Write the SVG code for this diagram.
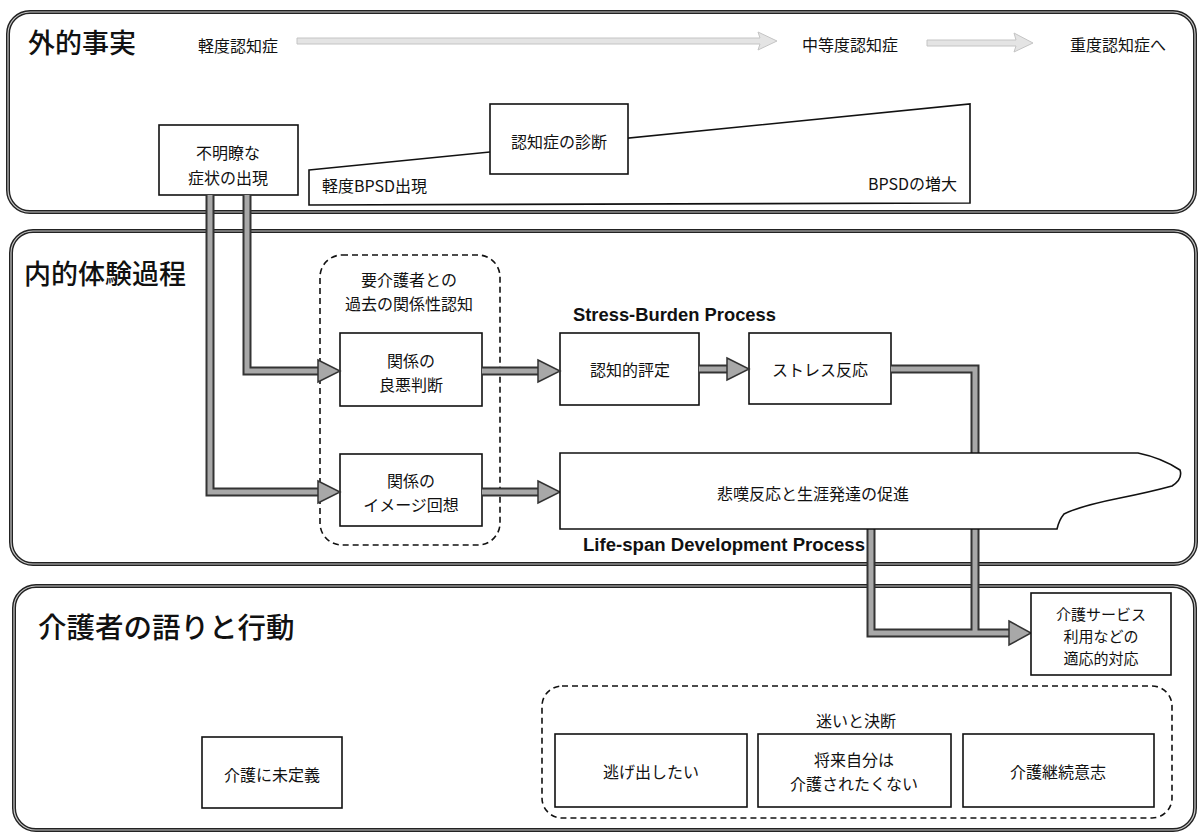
<svg xmlns="http://www.w3.org/2000/svg" width="1201" height="834" viewBox="0 0 1201 834">
<defs>
<style>
.panel{fill:none;stroke:#222;stroke-width:4}
.panel2{fill:none;stroke:#c8c8c8;stroke-width:1.2}
.box{fill:#fff;stroke:#111;stroke-width:1.6}
.dash{fill:none;stroke:#111;stroke-width:1.6;stroke-dasharray:6 4}
.jp{font-family:"Noto Sans CJK JP","Noto Sans CJK SC",sans-serif;font-size:16px;fill:#111}
.sm{font-size:15px}
.title{font-family:"Noto Sans CJK JP","Noto Sans CJK SC",sans-serif;font-size:27px;fill:#111;font-weight:500}
.en{font-family:"Liberation Sans Narrow","Liberation Sans",sans-serif;font-size:18px;font-weight:bold;fill:#111}
.c{text-anchor:middle}
.co{fill:none;stroke:#333;stroke-width:9;stroke-linejoin:miter}
.ci{fill:none;stroke:#a8a8a8;stroke-width:5;stroke-linejoin:miter}
.head{fill:#a8a8a8;stroke:#333;stroke-width:1.5}
.prog{fill:#e4e4e4;stroke:#c4c4c4;stroke-width:1}
</style>
</defs>

<g id="panels">
<rect class="panel" x="8" y="12" width="1187" height="200" rx="22"/>
<rect class="panel2" x="8" y="12" width="1187" height="200" rx="22"/>
<rect class="panel" x="11" y="231" width="1185" height="333" rx="22"/>
<rect class="panel2" x="11" y="231" width="1185" height="333" rx="22"/>
<rect class="panel" x="14" y="586" width="1181" height="244" rx="22"/>
<rect class="panel2" x="14" y="586" width="1181" height="244" rx="22"/>
</g>

<g id="titles">
<text class="title" x="28" y="41" dominant-baseline="central">外的事実</text>
<text class="title" x="24" y="272" dominant-baseline="central">内的体験過程</text>
<text class="title" x="38" y="625" dominant-baseline="central" style="font-size:28.5px">介護者の語りと行動</text>
</g>

<g id="progression">
<text class="jp" x="198" y="45" dominant-baseline="central">軽度認知症</text>
<polygon class="prog" points="297,38 760,38 758,32 777,41 758,50 760,44 297,44"/>
<text class="jp" x="802" y="44" dominant-baseline="central">中等度認知症</text>
<polygon class="prog" points="927,40 1016,40 1014,33 1033,43 1014,52 1016,46 927,46"/>
<text class="jp" x="1070" y="44" dominant-baseline="central">重度認知症へ</text>
</g>

<g id="bpsd">
<polygon class="box" points="309,170 970,104 970,203 309,205"/>
<text class="jp" x="322" y="185" dominant-baseline="central">軽度BPSD出現</text>
<text class="jp" x="957" y="183" dominant-baseline="central" text-anchor="end">BPSDの増大</text>
</g>

<g id="diagnosis">
<rect class="box" x="490" y="104" width="138" height="70"/>
<text class="jp c" x="559" y="141" dominant-baseline="central">認知症の診断</text>
</g>

<g id="unclear">
<rect class="box" x="159" y="125" width="139" height="70"/>
<text class="jp c" x="228" y="152" dominant-baseline="central">不明瞭な</text>
<text class="jp c" x="228" y="177" dominant-baseline="central">症状の出現</text>
</g>

<g id="relation-group">
<rect class="dash" x="320" y="255" width="180" height="290" rx="22"/>
<text class="jp c" x="409" y="279" dominant-baseline="central">要介護者との</text>
<text class="jp c" x="409" y="303" dominant-baseline="central">過去の関係性認知</text>
</g>

<g id="judge">
<rect class="box" x="340" y="333" width="142" height="73"/>
<text class="jp c" x="411" y="360" dominant-baseline="central">関係の</text>
<text class="jp c" x="411" y="384" dominant-baseline="central">良悪判断</text>
</g>

<g id="image">
<rect class="box" x="340" y="454" width="142" height="72"/>
<text class="jp c" x="411" y="480" dominant-baseline="central">関係の</text>
<text class="jp c" x="411" y="504" dominant-baseline="central">イメージ回想</text>
</g>

<g id="stress-label">
<text class="en" x="573" y="315" dominant-baseline="central" textLength="203" lengthAdjust="spacingAndGlyphs">Stress-Burden Process</text>
</g>

<g id="appraisal">
<rect class="box" x="560" y="333" width="139" height="72"/>
<text class="jp c" x="630" y="369" dominant-baseline="central">認知的評定</text>
</g>

<g id="stress">
<rect class="box" x="749" y="333" width="142" height="71"/>
<text class="jp c" x="820" y="369" dominant-baseline="central">ストレス反応</text>
</g>

<g id="connectors">
<path class="co" d="M247,195 V371 H318"/>
<path class="ci" d="M247,195 V371 H318"/>
<polygon class="head" points="318,360 340,371 318,382"/>
<path class="co" d="M210,195 V492 H318"/>
<path class="ci" d="M210,195 V492 H318"/>
<polygon class="head" points="318,481 340,492 318,503"/>
<path class="co" d="M482,371 H538"/>
<path class="ci" d="M482,371 H538"/>
<polygon class="head" points="538,360 560,371 538,382"/>
<path class="co" d="M699,369 H727"/>
<path class="ci" d="M699,369 H727"/>
<polygon class="head" points="727,358 749,369 727,380"/>
<path class="co" d="M482,492 H538"/>
<path class="ci" d="M482,492 H538"/>
<polygon class="head" points="538,481 560,492 538,503"/>
<path class="co" d="M891,369 H975 V633"/>
<path class="co" d="M871,525 V633 H1009"/>
<path class="ci" d="M891,369 H975 V633"/>
<path class="ci" d="M871,525 V633 H1009"/>
<polygon class="head" points="1009,621 1031,633 1009,645"/>
</g>

<g id="grief">
<path class="box" d="M560,453 H1138 Q1162,458 1180,470 Q1183,479 1172,486 Q1150,492 1120,498 Q1080,506 1064,514 Q1059,520 1057,529 H560 Z"/>
<text class="jp c" x="813" y="493" dominant-baseline="central">悲嘆反応と生涯発達の促進</text>
</g>

<g id="lifespan-label">
<text class="en" x="583" y="545" dominant-baseline="central" textLength="282" lengthAdjust="spacingAndGlyphs">Life-span Development Process</text>
</g>

<g id="service">
<rect class="box" x="1031" y="593" width="140" height="82"/>
<text class="jp sm c" x="1101" y="613" dominant-baseline="central">介護サービス</text>
<text class="jp sm c" x="1101" y="635" dominant-baseline="central">利用などの</text>
<text class="jp sm c" x="1101" y="657" dominant-baseline="central">適応的対応</text>
</g>

<g id="undefined">
<rect class="box" x="202" y="737" width="140" height="71"/>
<text class="jp c" x="272" y="774" dominant-baseline="central">介護に未定義</text>
</g>

<g id="hesitation-group">
<rect class="dash" x="542" y="686" width="630" height="132" rx="20"/>
<text class="jp c" x="856" y="720" dominant-baseline="central">迷いと決断</text>
</g>

<g id="escape">
<rect class="box" x="555" y="734" width="192" height="73"/>
<text class="jp c" x="651" y="771" dominant-baseline="central">逃げ出したい</text>
</g>

<g id="future">
<rect class="box" x="758" y="734" width="193" height="73"/>
<text class="jp c" x="854" y="759" dominant-baseline="central">将来自分は</text>
<text class="jp c" x="854" y="783" dominant-baseline="central">介護されたくない</text>
</g>

<g id="continue">
<rect class="box" x="963" y="734" width="191" height="73"/>
<text class="jp c" x="1058" y="771" dominant-baseline="central">介護継続意志</text>
</g>
</svg>
